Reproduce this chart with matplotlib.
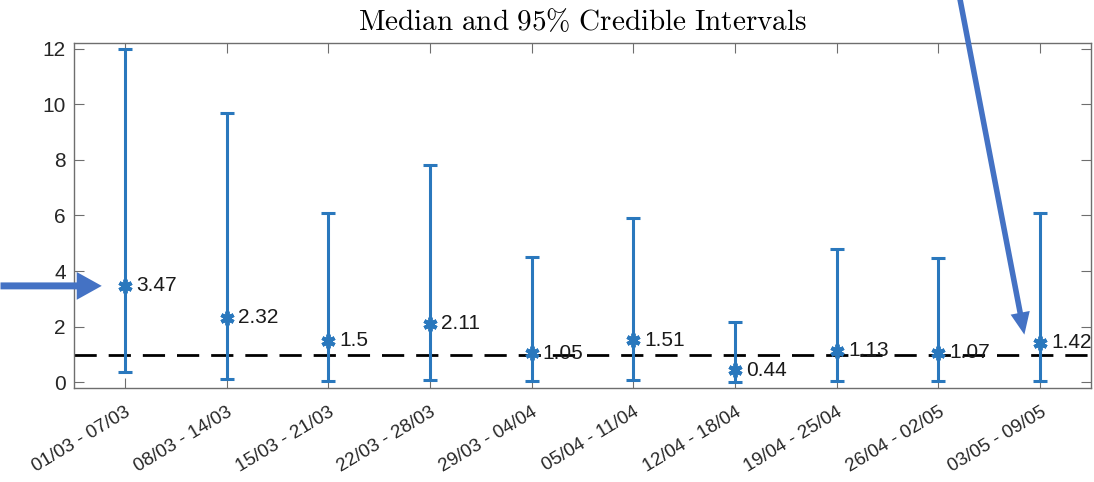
import matplotlib.pyplot as plt

plt.rcParams['font.family'] = ['Liberation Sans', 'DejaVu Sans']
plt.rcParams['mathtext.fontset'] = 'cm'

weeks = ["01/03 - 07/03", "08/03 - 14/03", "15/03 - 21/03", "22/03 - 28/03",
         "29/03 - 04/04", "05/04 - 11/04", "12/04 - 18/04", "19/04 - 25/04",
         "26/04 - 02/05", "03/05 - 09/05"]
median = [3.47, 2.32, 1.5, 2.11, 1.05, 1.51, 0.44, 1.13, 1.07, 1.42]
upper = [12.0, 9.68, 6.1, 7.83, 4.5, 5.9, 2.18, 4.78, 4.46, 6.1]
lower = [0.36, 0.12, 0.05, 0.1, 0.05, 0.08, 0.03, 0.05, 0.05, 0.05]
labels = ["3.47", "2.32", "1.5", "2.11", "1.05", "1.51", "0.44", "1.13", "1.07", "1.42"]

x = list(range(1, len(weeks) + 1))
err_lo = [m - l for m, l in zip(median, lower)]
err_hi = [u - m for m, u in zip(median, upper)]

blue = '#2a78bd'
arrow_col = '#4472c4'
axcol = '#6e6e6e'

fig = plt.figure(figsize=(10.94, 4.82), dpi=100)
ax = fig.add_axes([74 / 1094, 1 - 388 / 482, (1091 - 74) / 1094, (388 - 43) / 482])

ax.axhline(1, color='black', lw=2, dashes=(8, 4.3), zorder=1)
ax.errorbar(x, median, yerr=[err_lo, err_hi], fmt='none', ecolor=blue,
            elinewidth=2.2, capsize=5, capthick=2.2, zorder=3)
ax.plot(x, median, ls='none', marker=(6, 2, 0), ms=10, mew=2.8, color=blue, zorder=3)

for xi, m, t in zip(x, median, labels):
    ax.text(xi + 0.11, m, t, fontsize=15, va='center', ha='left', color='#1a1a1a', zorder=4)

ax.set_xlim(0.5, 10.5)
ax.set_ylim(-0.2, 12.2)
ax.set_yticks([0, 2, 4, 6, 8, 10, 12])
ax.set_xticks(x)
ax.set_xticklabels(weeks, rotation=31, ha='right', va='top', rotation_mode='anchor')
ax.tick_params(direction='in', top=True, right=True, length=7, color=axcol,
               labelsize=15, labelcolor='#262626')
ax.tick_params(axis='x', pad=11, labelsize=13.5)
ax.tick_params(axis='y', pad=6)
for s in ax.spines.values():
    s.set_color(axcol)
    s.set_linewidth(1)

ax.set_title(r'$\mathrm{Median\ and\ 95\%\ Credible\ Intervals}$', fontsize=21, pad=9)

# highlight arrows
ax.annotate('', xy=(0.8, 3.47), xytext=(-0.25, 3.47), xycoords='data',
            annotation_clip=False,
            arrowprops=dict(arrowstyle='simple,head_length=1.8,head_width=2.0,tail_width=0.5',
                            color=arrow_col, lw=0))
ax.annotate('', xy=(9.85, 1.62), xytext=(9.2, 14.0), xycoords='data',
            annotation_clip=False,
            arrowprops=dict(arrowstyle='simple,head_length=1.6,head_width=1.4,tail_width=0.4',
                            color=arrow_col, lw=0))

fig.savefig('out.png', dpi=100)
